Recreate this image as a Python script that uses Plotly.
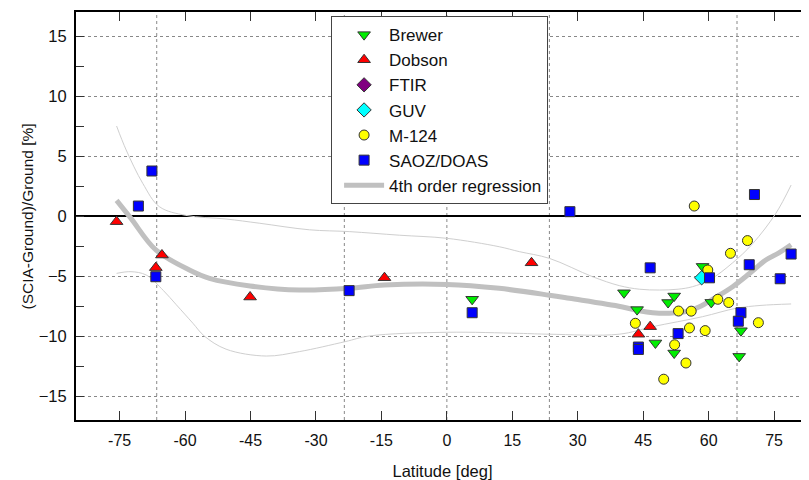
import plotly.graph_objects as go

# ---- data ----
brewer_lat = [5.8, 40.6, 43.6, 47.8, 50.7, 52.1, 52.1, 58.6, 60.6, 67.4, 67.0]
brewer_val = [-6.94, -6.4, -7.8, -10.58, -7.21, -6.67, -11.42, -4.2, -7.2, -9.56, -11.7]

dobson_lat = [-75.7, -65.3, -66.7, -45.1, -14.3, 19.4, 43.9, 46.6]
dobson_val = [-0.47, -3.25, -4.3, -6.75, -5.14, -3.9, -9.85, -9.22]

ftir_lat = [None]   # no FTIR points visible; legend entry only
ftir_val = [None]

guv_lat = [58.4]
guv_val = [-5.15]

m124_lat = [56.7, 68.9, 65.0, 59.8, 62.1, 64.6, 53.1, 56.0, 71.4, 43.2, 55.6, 59.2, 52.2, 54.8, 49.7]
m124_val = [0.83, -2.05, -3.11, -4.5, -6.94, -7.21, -7.92, -7.93, -8.89, -8.94, -9.33, -9.55, -10.73, -12.25, -13.6]

saoz_lat = [-67.6, -70.7, -66.7, -22.4, 5.8, 28.2, 43.9, 43.9, 46.6, 53.0, 60.2, 67.4, 66.8,
            69.3, 70.5, 76.4, 78.9]
saoz_val = [3.75, 0.83, -5.06, -6.22, -8.06, 0.36, -10.92, -11.12, -4.32, -9.8, -5.15, -8.06, -8.77,
            -4.06, 1.79, -5.23, -3.17]

# 4th order regression curve and its confidence bounds (read at sample latitudes)
reg_lat = [-75.7, -72.4, -66.7, -59.0, -54.4, -45.1, -33.8, -22.4, -14.3, 0.0, 12.0, 23.5, 28.1,
           40.0, 44.1, 47.2, 51.0, 55.0, 57.9, 61.5, 65.5, 69.5, 73.1, 76.0, 78.9]
reg_val = [1.3, -0.2, -2.83, -4.5, -5.2, -5.83, -6.17, -6.03, -5.75, -5.7, -6.03, -6.6, -6.86,
           -7.56, -7.9, -8.06, -8.1, -7.95, -7.56, -6.8, -5.89, -4.75, -3.67, -3.1, -2.4]

upper_lat = [-75.7, -73.5, -69.7, -65.9, -59.8, -50.6, -43.0, -31.5, -22.4, -10.9, 0.0, 12.0, 16.6,
             23.5, 33.4, 39.5, 44.1, 48.7, 53.0, 56.3, 60.2, 65.5, 70.1, 75.4, 78.9]
upper_val = [7.5, 5.5, 2.72, 0.78, 0.05, -0.25, -0.6, -1.15, -1.3, -1.6, -1.86, -2.56, -2.97,
             -3.53, -5.06, -5.8, -6.1, -6.17, -6.1, -5.89, -5.33, -3.9, -2.3, 0.22, 2.58]

lower_lat = [-75.7, -72.4, -68.9, -65.0, -62.0, -58.2, -55.6, -50.6, -41.4, -33.8, -23.3, -17.8,
             0.0, 16.6, 23.5, 39.5, 47.2, 58.6, 66.3, 72.0, 78.9]
lower_val = [-4.78, -4.64, -4.92, -6.2, -7.4, -8.94, -10.0, -11.1, -11.67, -11.3, -10.47, -10.0,
             -9.69, -9.78, -9.85, -9.85, -9.22, -8.39, -7.69, -7.45, -7.33]

x_ticks = [-75, -60, -45, -30, -15, 0, 15, 30, 45, 60, 75]
x_grid = [-66.5, -23.5, 0, 23.5, 66.5]

fig = go.Figure()

thin = dict(color="#cfcfcf", width=1, shape="spline", smoothing=1)
fig.add_trace(go.Scatter(x=upper_lat, y=upper_val, mode="lines", line=thin,
                         showlegend=False, hoverinfo="skip"))
fig.add_trace(go.Scatter(x=lower_lat, y=lower_val, mode="lines", line=thin,
                         showlegend=False, hoverinfo="skip"))
fig.add_trace(go.Scatter(x=reg_lat, y=reg_val, mode="lines", name="4th order regression",
                         line=dict(color="#c0c0c0", width=5, shape="spline", smoothing=1),
                         legendrank=2000))

outline = dict(color="#333333", width=1)
fig.add_trace(go.Scatter(x=brewer_lat, y=brewer_val, mode="markers", name="Brewer",
                         marker=dict(symbol="triangle-down", size=11, color="#00ee00", line=outline)))
fig.add_trace(go.Scatter(x=dobson_lat, y=dobson_val, mode="markers", name="Dobson",
                         marker=dict(symbol="triangle-up", size=11, color="#ff0000", line=outline)))
fig.add_trace(go.Scatter(x=ftir_lat, y=ftir_val, mode="markers", name="FTIR",
                         marker=dict(symbol="diamond", size=11, color="#800080", line=outline)))
fig.add_trace(go.Scatter(x=guv_lat, y=guv_val, mode="markers", name="GUV",
                         marker=dict(symbol="diamond", size=11, color="#00ffff", line=outline)))
fig.add_trace(go.Scatter(x=m124_lat, y=m124_val, mode="markers", name="M-124",
                         marker=dict(symbol="circle", size=10, color="#ffff00", line=outline)))
fig.add_trace(go.Scatter(x=saoz_lat, y=saoz_val, mode="markers", name="SAOZ/DOAS",
                         marker=dict(symbol="square", size=10, color="#0000ff", line=outline)))

for gx in x_grid:
    fig.add_shape(type="line", xref="x", yref="paper", x0=gx, x1=gx, y0=0, y1=1,
                  line=dict(color="#888888", width=1, dash="dot"), layer="below")

fig.add_annotation(text="(SCIA-Ground)/Ground [%]", xref="paper", yref="paper",
                   x=-0.0662, y=0.5, xanchor="center", yanchor="middle",
                   textangle=-90, showarrow=False, font=dict(size=15.5))

# The page body has an 8px margin, so the figure is 8px smaller than the window.
fig.update_layout(
    width=801, height=472,
    margin=dict(l=68, r=0, t=4, b=60),
    paper_bgcolor="white", plot_bgcolor="white",
    font=dict(family="Liberation Sans, Arial, sans-serif", size=16, color="#111111"),
    showlegend=True,
    legend=dict(x=0.348, y=0.99, xanchor="left", yanchor="top",
                bgcolor="white", bordercolor="#444444", borderwidth=1,
                font=dict(size=17), itemwidth=40, indentation=7,
                traceorder="normal"),
    xaxis=dict(range=[-85, 83], tickmode="array", tickvals=x_ticks,
               ticktext=[str(v) for v in x_ticks],
               ticks="inside", ticklen=9, tickcolor="#333333", tickwidth=1,
               showgrid=False, zeroline=False, automargin=False,
               showline=True, linecolor="black", linewidth=2, mirror="ticks",
               ticklabelstandoff=5, tickfont=dict(size=16),
               title=dict(text="Latitude [deg]", font=dict(size=16.5), standoff=22)),
    yaxis=dict(range=[-17, 17], tickmode="linear", tick0=0, dtick=5,
               ticks="inside", ticklen=8, tickcolor="#333333", tickwidth=1,
               showgrid=True, gridcolor="#888888", griddash="dot", gridwidth=1,
               zeroline=True, zerolinecolor="black", zerolinewidth=2,
               showline=True, linecolor="black", linewidth=2, automargin=False,
               ticklabelstandoff=4, tickfont=dict(size=16.5),
               minor=dict(dtick=2.5, ticks="inside", ticklen=8, tickcolor="#333333",
                          showgrid=False)),
)

fig.write_html("out.html")
